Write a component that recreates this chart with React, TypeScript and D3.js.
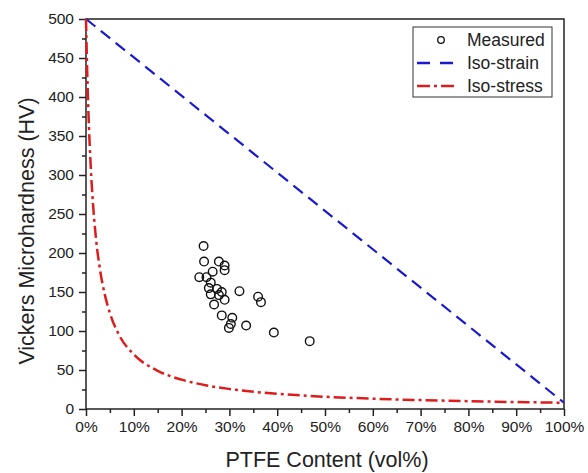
import React, { useEffect, useRef } from 'react';
import * as d3 from 'd3';

// measured points: [PTFE vol%, HV]
const measuredPtfe = [24.6, 24.7, 27.8, 29.0, 29.0, 26.5, 23.7, 25.2, 26.1, 25.7, 27.4, 28.4, 26.1, 27.8, 29.0, 32.1, 36.0, 36.6, 26.8, 28.4, 30.6, 30.3, 29.9, 33.5, 39.3, 46.8];
const measuredHv = [209, 189, 189, 184, 178, 176, 169, 169, 162, 155, 154, 150, 147, 146, 140, 151, 144, 137, 134, 120, 117, 109, 104, 107, 98, 87];

const isoStrainPtfe = [0, 100];
const isoStrainHv = [500, 8];

const isoStressPtfe = [0, 0.25, 0.5, 1, 1.5, 2, 3, 4, 5, 7, 10, 15, 20, 25, 30, 40, 50, 60, 70, 80, 90, 100];
const isoStressHv = [500, 433, 382, 310, 260, 224, 176, 145, 123, 94, 70, 49, 37.6, 30.5, 25.7, 19.5, 15.7, 13.2, 11.4, 10, 8.9, 8];

const xTicks = [0, 10, 20, 30, 40, 50, 60, 70, 80, 90, 100];
const yTicks = [0, 50, 100, 150, 200, 250, 300, 350, 400, 450, 500];

const legendLabels = ['Measured', 'Iso-strain', 'Iso-stress'];

const FONT = '"Liberation Sans", Arial, sans-serif';

const App = () => {
  const ref = useRef<SVGSVGElement>(null);

  useEffect(() => {
    const svg = d3.select(ref.current);
    svg.selectAll('*').remove();

    const width = 588;
    const height = 473;
    const left = 86, right = 564, top = 19, bottom = 409;

    const x = d3.scaleLinear().domain([0, 100]).range([left, right]);
    const y = d3.scaleLinear().domain([0, 500]).range([bottom, top]);

    svg.attr('width', width).attr('height', height);
    svg.append('rect').attr('width', width).attr('height', height).attr('fill', '#fff');

    // Minor ticks
    svg.append('g')
      .attr('transform', `translate(0, ${bottom})`)
      .call(d3.axisBottom(x).tickValues(d3.range(5, 100, 10)).tickSize(4).tickFormat(() => ''))
      .call(g => g.select('.domain').remove())
      .call(g => g.selectAll('line').attr('stroke', '#222').attr('stroke-width', 1.5));

    svg.append('g')
      .attr('transform', `translate(${left}, 0)`)
      .call(d3.axisLeft(y).tickValues(d3.range(25, 500, 50)).tickSize(4).tickFormat(() => ''))
      .call(g => g.select('.domain').remove())
      .call(g => g.selectAll('line').attr('stroke', '#222').attr('stroke-width', 1.5));

    // Major axes
    svg.append('g')
      .attr('transform', `translate(0, ${bottom})`)
      .call(d3.axisBottom(x).tickValues(xTicks).tickSize(7).tickPadding(5).tickFormat(d => `${d}%`))
      .call(g => g.select('.domain').remove())
      .call(g => g.selectAll('line').attr('stroke', '#222').attr('stroke-width', 1.5))
      .call(g => g.selectAll('text').attr('font-family', FONT).attr('font-size', 15.5).attr('fill', '#222'));

    svg.append('g')
      .attr('transform', `translate(${left}, 0)`)
      .call(d3.axisLeft(y).tickValues(yTicks).tickSize(7).tickPadding(5))
      .call(g => g.select('.domain').remove())
      .call(g => g.selectAll('line').attr('stroke', '#222').attr('stroke-width', 1.5))
      .call(g => g.selectAll('text').attr('font-family', FONT).attr('font-size', 15.5).attr('fill', '#222'));

    // Frame
    svg.append('rect')
      .attr('x', left).attr('y', top)
      .attr('width', right - left).attr('height', bottom - top)
      .attr('fill', 'none').attr('stroke', '#222').attr('stroke-width', 1.5);

    // Axis titles
    svg.append('text')
      .attr('x', 327).attr('y', 467)
      .attr('text-anchor', 'middle')
      .attr('font-family', FONT).attr('font-size', 21.5).attr('fill', '#222')
      .text('PTFE Content (vol%)');

    svg.append('text')
      .attr('transform', 'translate(34, 231) rotate(-90)')
      .attr('text-anchor', 'middle')
      .attr('font-family', FONT).attr('font-size', 21.5).attr('fill', '#222')
      .text('Vickers Microhardness (HV)');

    const plot = svg.append('g');

    // Iso-strain
    const strainLine = d3.line<number>()
      .x((d, i) => x(isoStrainPtfe[i]))
      .y(d => y(d));
    plot.append('path')
      .datum(isoStrainHv)
      .attr('fill', 'none')
      .attr('stroke', '#1a1acc')
      .attr('stroke-width', 2.2)
      .attr('stroke-dasharray', '12 7')
      .attr('d', strainLine);

    // Iso-stress
    const stressLine = d3.line<number>()
      .x((d, i) => x(isoStressPtfe[i]))
      .y(d => y(d))
      .curve(d3.curveMonotoneX);
    plot.append('path')
      .datum(isoStressHv)
      .attr('fill', 'none')
      .attr('stroke', '#dd1c1c')
      .attr('stroke-width', 2.5)
      .attr('stroke-dasharray', '12 4 3 4')
      .attr('d', stressLine);

    // Measured
    plot.selectAll('circle.m')
      .data(measuredHv)
      .enter()
      .append('circle')
      .attr('class', 'm')
      .attr('cx', (d, i) => x(measuredPtfe[i]))
      .attr('cy', d => y(d))
      .attr('r', 4.3)
      .attr('fill', 'none')
      .attr('stroke', '#111')
      .attr('stroke-width', 1.4);

    // Legend
    const lg = svg.append('g');
    lg.append('rect')
      .attr('x', 413).attr('y', 27)
      .attr('width', 139).attr('height', 70)
      .attr('fill', '#fff').attr('stroke', '#333').attr('stroke-width', 1);

    const rowY = [40, 63, 86];
    lg.append('circle')
      .attr('cx', 441).attr('cy', rowY[0]).attr('r', 3.3)
      .attr('fill', 'none').attr('stroke', '#111').attr('stroke-width', 1.3);
    lg.append('line')
      .attr('x1', 417).attr('x2', 454).attr('y1', rowY[1]).attr('y2', rowY[1])
      .attr('stroke', '#1a1acc').attr('stroke-width', 2.5).attr('stroke-dasharray', '13 10');
    lg.append('line')
      .attr('x1', 417).attr('x2', 454).attr('y1', rowY[2]).attr('y2', rowY[2])
      .attr('stroke', '#dd1c1c').attr('stroke-width', 2.5).attr('stroke-dasharray', '13 4 3 4');

    lg.selectAll('text')
      .data(legendLabels)
      .enter()
      .append('text')
      .attr('x', 467)
      .attr('y', (d, i) => rowY[i] + 6)
      .attr('font-family', FONT).attr('font-size', 17.5).attr('fill', '#222')
      .text(d => d);
  }, []);

  return <svg ref={ref} style={{ display: 'block', position: 'absolute', left: 0, top: 0 }}></svg>;
};

export default App;
